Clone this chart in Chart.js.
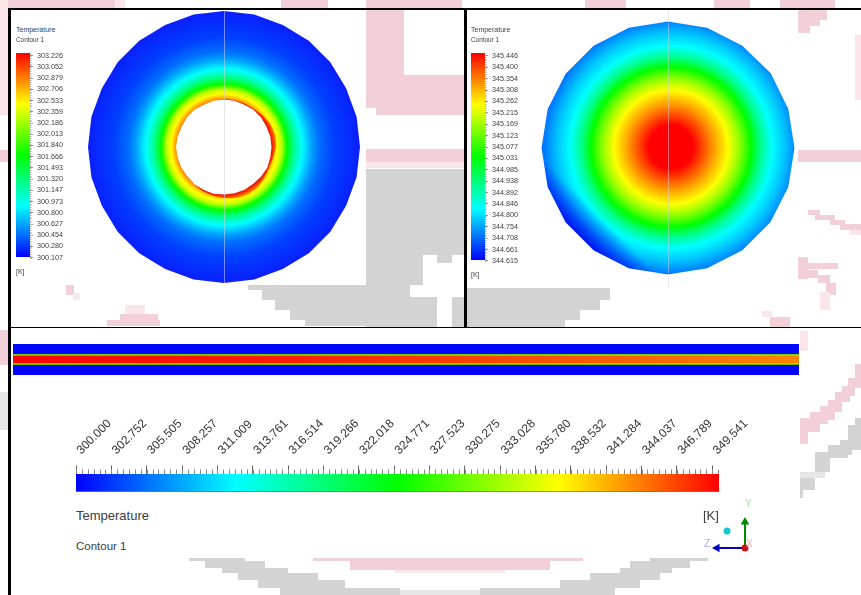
<!DOCTYPE html>
<html>
<head>
<meta charset="utf-8">
<title>Temperature contours</title>
<script src="https://cdn.jsdelivr.net/npm/chart.js@4"></script>
<style>
  html, body { margin: 0; padding: 0; background: #fff; }
  #page { position: relative; width: 861px; height: 595px; overflow: hidden; }
  canvas, .wash, .rule, .txt { position: absolute; }
  .txt { font-family: 'Liberation Sans', Arial, sans-serif; color: #3c3c3c; white-space: nowrap; line-height: 1; }
  .rule { background: #000; }
</style>
</head>
<body>
<div id="page">
  <canvas id="leftDisc" width="301" height="301" style="left:74px;top:-3.5px"></canvas>
  <canvas id="rightDisc" width="301" height="301" style="left:518px;top:-2px"></canvas>
  <canvas id="leftScale" width="54" height="216" style="left:16px;top:47px"></canvas>
  <canvas id="rightScale" width="54" height="219" style="left:471px;top:47px"></canvas>
  <canvas id="strip" width="786" height="31" style="left:13px;top:344px"></canvas>
  <canvas id="bar" width="720" height="78" style="left:56px;top:414px"></canvas>
  <canvas id="triad" width="60" height="60" style="left:700px;top:500px"></canvas>

  <div class="wash" style="left:224px;top:11px;width:1px;height:272px;background:rgba(205,205,215,.55)"></div>
  <div class="wash" style="left:668px;top:8px;width:1px;height:280px;background:rgba(205,205,215,.5)"></div>

  <div class="txt" style="left:16px;top:26px;font-size:7px">Temperature</div>
  <div class="txt" style="left:16px;top:37px;font-size:6.4px">Contour 1</div>
  <div class="txt" style="left:16px;top:268px;font-size:7px">[K]</div>
  <div class="txt" style="left:471px;top:26px;font-size:7px">Temperature</div>
  <div class="txt" style="left:471px;top:37px;font-size:6.4px">Contour 1</div>
  <div class="txt" style="left:471px;top:271px;font-size:7px">[K]</div>
  <div class="txt" style="left:76px;top:509px;font-size:13px">Temperature</div>
  <div class="txt" style="left:76px;top:541px;font-size:11.5px">Contour 1</div>
  <div class="txt" style="left:703px;top:509px;font-size:13px">[K]</div>
  <div class="txt" style="left:745px;top:499px;font-size:10px;color:#a9e3a9">Y</div>
  <div class="txt" style="left:704px;top:539px;font-size:10px;color:#aaaaff">Z</div>
  <div class="txt" style="left:746px;top:539px;font-size:10px;color:#ffaaaa">X</div>

  <div class="rule" style="left:8px;top:8px;width:853px;height:2px"></div>
  <div class="rule" style="left:8px;top:8px;width:3px;height:587px"></div>
  <div class="rule" style="left:464px;top:8px;width:2.5px;height:319px"></div>
  <div class="rule" style="left:8px;top:326.5px;width:853px;height:1.5px"></div>
</div>

<script>
// legend ticks
const leftTicks = [303.226, 303.052, 302.879, 302.706, 302.533, 302.359, 302.186, 302.013, 301.840, 301.666, 301.493, 301.320, 301.147, 300.973, 300.800, 300.627, 300.454, 300.280, 300.107];
const rightTicks = [345.446, 345.400, 345.354, 345.308, 345.262, 345.215, 345.169, 345.123, 345.077, 345.031, 344.985, 344.938, 344.892, 344.846, 344.800, 344.754, 344.708, 344.661, 344.615];
const barTicks = [300.000, 302.752, 305.505, 308.257, 311.009, 313.761, 316.514, 319.266, 322.018, 324.771, 327.523, 330.275, 333.028, 335.780, 338.532, 341.284, 344.037, 346.789, 349.541];

// colour map shared by the three legends (low to high)
const rainbowStops = [0, 0.25, 0.5, 0.75, 1];
const rainbowColors = ['#0000ff', '#00ffff', '#00ff00', '#ffff00', '#ff0000'];

// left disc: outline, hole and hot rim radii per spoke, clockwise from the top
const leftOutline = [136, 136, 135.5, 136, 136, 135.5, 136, 136, 136, 135.5, 136, 136, 135.5, 136, 136, 136, 135.5, 136, 136, 135.5, 136, 136, 136, 135.5, 136, 136, 135.5, 136];
const leftHole = [47.5, 47.5, 47, 47.5, 47.5, 47, 47.5, 47.5, 47.5, 48, 47.5, 47, 47.5, 47.5, 47.5, 48, 47.5, 47.5, 47, 47.5, 47.5, 48, 47.5, 47, 47.5, 47.5, 47, 47.5];
const leftHot = [48, 48, 48, 48.5, 50, 52, 53, 52, 50, 49.5, 51, 53, 53.5, 52.5, 51, 50, 49, 47.5, 47, 47, 47, 47, 47, 47, 47, 47, 47, 47];
const leftStopRadius = [47, 49.5, 53, 57, 63, 70, 78, 88, 95, 110, 136];
const leftStopColor = ['#ff8000', '#ffb400', '#ffff00', '#c8ff00', '#00ff00', '#00ff90', '#00ffff', '#00a0ff', '#0070ff', '#0040ff', '#0a1eff'];

// right disc
const rightOutline = [126.5, 126.5, 126.5, 127, 126.5, 126.5, 126.5, 126.5, 126.5, 126.5, 126.5, 126.5, 126.5, 126.5, 126.5, 126.5, 126.5, 126.5, 126.5, 126.5];
const rightStopRadius = [0, 22, 30, 42, 57, 68, 80, 90, 101, 113, 127];
const rightStopColor = ['#ff0000', '#ff0000', '#ff3c00', '#ff9600', '#ffff00', '#96ff00', '#00ff00', '#00ff90', '#00ffff', '#00c8ff', '#0078ff'];

// long section bands, bottom to top
const stripBands = [10, 1.5, 8, 1.5, 10];
const stripColors = ['#0000ff', '#60c800', null, '#78cc00', '#0008ff'];
const coreStops = [0, 0.35, 0.75, 1];
const coreColors = ['#ff0000', '#ff1c00', '#ff5a00', '#ff8400'];

// triad, in canvas units
const triadOrigin = [{ x: 45, y: 12 }];
const triadY = [{ x: 45, y: 12 }, { x: 45, y: 38 }];
const triadZ = [{ x: 45, y: 12 }, { x: 17, y: 12 }];
const triadDot = [{ x: 27, y: 29 }];

// washed out background picture: x, y, w, h, tone
const PINK = '#f3d0d8', PALE = '#fbe6ea', GREY = '#d3d3d3', LGREY = '#e6e6e6';
const wash = [
  [5, 0, 110, 8, PINK], [115, 0, 10, 8, PALE], [0, 0, 8, 115, PALE], [0, 150, 8, 12, PINK], [281, 0, 47, 8, PINK],
  [366, 0, 96, 8, PINK], [585, 0, 41, 8, PINK], [714, 0, 36, 8, PINK], [780, 0, 55, 8, PINK],
  [798, 10, 29, 10, PINK], [798, 20, 22, 6, PINK], [798, 26, 12, 7, PINK], [855, 35, 6, 65, PALE],
  [366, 10, 38, 98, PINK], [404, 75, 60, 40, PINK], [376, 108, 88, 7, PINK], [366, 149, 98, 13, PINK], [366, 162, 98, 6, PALE],
  [798, 150, 63, 12, PINK], [808, 210, 12, 5, PINK], [815, 215, 20, 5, PINK], [830, 220, 15, 5, PINK], [840, 224, 21, 6, PINK], [850, 230, 11, 5, PALE],
  [798, 257, 10, 22, PINK], [808, 263, 30, 6, PINK], [808, 270, 10, 8, PINK], [818, 275, 12, 8, PINK], [826, 283, 10, 12, PINK], [820, 292, 10, 18, PALE],
  [762, 311, 10, 6, PALE], [770, 317, 20, 10, PINK], [66, 285, 8, 10, PINK], [73, 293, 7, 7, PALE],
  [125, 305, 20, 10, PALE], [120, 314, 38, 12, PINK], [0, 330, 8, 35, PINK], [0, 392, 8, 38, LGREY],
  [107, 320, 53, 6, PINK], [800, 331, 8, 20, PALE],
  [366, 169, 98, 86, GREY], [366, 255, 57, 30, GREY], [437, 255, 15, 8, GREY], [366, 285, 44, 42, GREY], [410, 297, 27, 30, GREY], [452, 297, 12, 30, GREY],
  [248, 285, 118, 5, GREY], [262, 290, 104, 10, GREY], [275, 300, 91, 10, GREY], [290, 310, 76, 10, GREY], [305, 320, 61, 6, GREY],
  [467, 288, 143, 12, GREY], [467, 300, 133, 10, GREY], [467, 310, 113, 10, GREY], [467, 320, 98, 7, GREY],
  [855, 364, 6, 21, PINK], [848, 378, 13, 10, PINK], [842, 386, 13, 10, PINK], [835, 392, 15, 10, PINK], [828, 400, 14, 12, PINK], [820, 406, 15, 14, PINK], [810, 412, 18, 12, PINK], [800, 418, 20, 14, PINK], [800, 432, 8, 12, PINK],
  [855, 418, 6, 22, GREY], [848, 425, 13, 20, GREY], [840, 440, 21, 10, GREY], [828, 445, 24, 10, GREY], [815, 452, 33, 6, GREY], [815, 458, 15, 14, GREY], [800, 472, 25, 6, LGREY], [800, 478, 15, 12, GREY], [800, 490, 3, 8, GREY],
  [189, 558, 56, 3, GREY], [205, 561, 60, 7, GREY], [222, 568, 66, 5, GREY], [238, 573, 80, 7, GREY], [258, 580, 87, 8, GREY], [280, 588, 120, 7, GREY],
  [400, 590, 80, 5, LGREY], [480, 588, 135, 7, GREY], [560, 580, 80, 8, GREY], [590, 573, 70, 7, GREY], [620, 568, 52, 5, GREY], [630, 561, 60, 7, GREY], [650, 558, 58, 3, GREY],
  [313, 558, 270, 3, PINK], [350, 561, 200, 9, PINK], [395, 570, 110, 3, PALE]
];

const page = document.getElementById('page');
wash.forEach(([x, y, w, h, tone]) => {
  const block = document.createElement('div');
  block.className = 'wash';
  block.style.cssText = `left:${x}px;top:${y}px;width:${w}px;height:${h}px;background:${tone};z-index:-1`;
  page.appendChild(block);
});
page.style.zIndex = 0;

const base = { responsive: false, animation: false, events: [] };
const quiet = { legend: { display: false }, tooltip: { enabled: false } };
const blank = n => new Array(n).fill('');

function rainbow(ctx, vertical) {
  const area = ctx.chart.chartArea;
  if (!area) return rainbowColors[0];
  const g = vertical
    ? ctx.chart.ctx.createLinearGradient(0, area.bottom, 0, area.top)
    : ctx.chart.ctx.createLinearGradient(area.left, 0, area.right, 0);
  rainbowStops.forEach((s, i) => g.addColorStop(s, rainbowColors[i]));
  return g;
}

function radialFill(ctx, radii, colors, dx, dy) {
  const s = ctx.chart.scales.r;
  if (!s || !s.drawingArea) return colors[colors.length - 1];
  const max = s.max;
  const g = ctx.chart.ctx.createRadialGradient(s.xCenter + dx, s.yCenter + dy, 0, s.xCenter + dx, s.yCenter + dy, s.drawingArea);
  radii.forEach((r, i) => g.addColorStop(r / max, colors[i]));
  return g;
}

// small ticks between the labelled ones
const minorTicks = {
  id: 'minorTicks',
  afterDraw(chart, args, opts) {
    const scale = chart.scales[opts.axis];
    const ticks = scale.ticks.map(t => t.value).sort((a, b) => a - b);
    const step = (ticks[1] - ticks[0]) / 6;
    const { ctx, chartArea } = chart;
    ctx.save();
    ctx.strokeStyle = opts.color;
    ctx.lineWidth = 1;
    for (let v = ticks[0]; v <= scale.max; v += step) {
      const p = Math.round(scale.getPixelForValue(v)) + 0.5;
      ctx.beginPath();
      if (opts.axis === 'x') {
        ctx.moveTo(p, chartArea.top);
        ctx.lineTo(p, chartArea.top - opts.size);
      } else {
        ctx.moveTo(chartArea.right, p);
        ctx.lineTo(chartArea.right + opts.size, p);
      }
      ctx.stroke();
    }
    ctx.restore();
  }
};

const radialScale = {
  r: {
    min: 0,
    max: 150,
    ticks: { display: false },
    grid: { display: false },
    angleLines: { display: false },
    pointLabels: { display: false }
  }
};

new Chart(document.getElementById('leftDisc'), {
  type: 'radar',
  data: {
    labels: blank(leftOutline.length),
    datasets: [
      { data: leftHole, backgroundColor: '#ffffff', fill: true, borderWidth: 0, pointRadius: 0 },
      {
        data: leftHot,
        fill: true,
        borderWidth: 0,
        pointRadius: 0,
        backgroundColor: ctx => radialFill(ctx, [47, 50, 52, 54], ['#e81000', '#ff4000', '#ff9000', '#ffd000'], 0, 0)
      },
      {
        data: leftOutline,
        fill: true,
        borderWidth: 0,
        pointRadius: 0,
        backgroundColor: ctx => radialFill(ctx, leftStopRadius, leftStopColor, 0, 0)
      }
    ]
  },
  options: { ...base, layout: { padding: 0 }, plugins: quiet, scales: radialScale }
});

new Chart(document.getElementById('rightDisc'), {
  type: 'radar',
  data: {
    labels: blank(rightOutline.length),
    datasets: [
      {
        // darker corner on the lower left
        data: rightOutline,
        fill: true,
        borderWidth: 0,
        pointRadius: 0,
        backgroundColor: ctx => {
          const s = ctx.chart.scales.r;
          if (!s || !s.drawingArea) return 'rgba(0,0,0,0)';
          const g = ctx.chart.ctx.createLinearGradient(s.xCenter - 68, s.yCenter + 68, s.xCenter - 92, s.yCenter + 92);
          g.addColorStop(0, 'rgba(0,0,255,0)');
          g.addColorStop(1, 'rgba(0,0,235,0.95)');
          return g;
        }
      },
      {
        data: rightOutline,
        fill: true,
        borderWidth: 0,
        pointRadius: 0,
        backgroundColor: ctx => radialFill(ctx, rightStopRadius, rightStopColor, 3, -1)
      }
    ]
  },
  options: { ...base, layout: { padding: 0 }, plugins: quiet, scales: radialScale }
});

function legendScale(id, ticks, low, high) {
  new Chart(document.getElementById(id), {
    type: 'bar',
    data: {
      labels: ['T'],
      datasets: [{
        data: [[low, high]],
        backgroundColor: ctx => rainbow(ctx, true),
        borderWidth: 0,
        inflateAmount: 0,
        barPercentage: 1,
        categoryPercentage: 1
      }]
    },
    options: {
      ...base,
      layout: { padding: { top: 6, bottom: 6, left: 0, right: 0 } },
      plugins: { ...quiet, minorTicks: { axis: 'y', size: 1.5, color: '#b0b0b0' } },
      scales: {
        x: { display: false },
        y: {
          position: 'right',
          min: low,
          max: high,
          afterBuildTicks: axis => { axis.ticks = ticks.map(value => ({ value })); },
          afterFit: axis => { axis.width = 40; axis.paddingTop = 0; axis.paddingBottom = 0; },
          border: { display: false },
          grid: { drawOnChartArea: false, tickLength: 3, tickColor: '#9a9a9a' },
          ticks: {
            autoSkip: false,
            padding: 4,
            color: '#3c3c3c',
            font: { family: "'Liberation Sans', Arial, sans-serif", size: 7.2 },
            callback: v => v.toFixed(3)
          }
        }
      }
    },
    plugins: [minorTicks]
  });
}
legendScale('leftScale', leftTicks, 300.118, 303.268);
legendScale('rightScale', rightTicks, 344.619, 345.458);

new Chart(document.getElementById('strip'), {
  type: 'bar',
  data: {
    labels: ['section'],
    datasets: stripBands.map((band, i) => ({
      data: [band],
      borderWidth: 0,
      inflateAmount: 0,
      barPercentage: 1,
      categoryPercentage: 1,
      backgroundColor: stripColors[i] || (ctx => {
        const area = ctx.chart.chartArea;
        if (!area) return coreColors[0];
        const g = ctx.chart.ctx.createLinearGradient(area.left, 0, area.right, 0);
        coreStops.forEach((s, k) => g.addColorStop(s, coreColors[k]));
        return g;
      })
    }))
  },
  options: {
    ...base,
    layout: { padding: 0 },
    plugins: quiet,
    scales: {
      x: { display: false, stacked: true },
      y: { display: false, stacked: true, min: 0, max: 31 }
    }
  }
});

new Chart(document.getElementById('bar'), {
  type: 'bar',
  data: {
    labels: ['Temperature'],
    datasets: [{
      data: [[barTicks[0], 350.06]],
      backgroundColor: ctx => rainbow(ctx, false),
      borderColor: '#777777',
      borderWidth: { bottom: 1 },
      borderSkipped: false,
      barPercentage: 1,
      categoryPercentage: 1
    }]
  },
  options: {
    ...base,
    indexAxis: 'y',
    layout: { padding: { left: 20, right: 57, top: 0, bottom: 0 } },
    plugins: { ...quiet, minorTicks: { axis: 'x', size: 4.5, color: '#8a8a8a' } },
    scales: {
      y: { display: false },
      x: {
        position: 'top',
        min: barTicks[0],
        max: 350.06,
        afterBuildTicks: axis => { axis.ticks = barTicks.map(value => ({ value })); },
        afterFit: axis => { axis.height = 60; axis.paddingLeft = 0; axis.paddingRight = 0; },
        border: { display: false },
        grid: { drawOnChartArea: false, tickLength: 8.5, tickColor: '#666666' },
        ticks: {
          autoSkip: false,
          minRotation: 45,
          maxRotation: 45,
          padding: 8,
          labelOffset: 13,
          color: '#333333',
          font: { family: "'Liberation Sans', Arial, sans-serif", size: 12 },
          callback: v => v.toFixed(3)
        }
      }
    }
  },
  plugins: [minorTicks]
});

new Chart(document.getElementById('triad'), {
  type: 'scatter',
  data: {
    datasets: [
      { data: triadOrigin, pointRadius: 3.5, pointBackgroundColor: '#c81414', pointBorderWidth: 0 },
      { data: triadDot, pointRadius: 3.5, pointBackgroundColor: '#14c8d2', pointBorderWidth: 0 },
      {
        data: triadY, showLine: true, borderColor: '#008c00', borderWidth: 2,
        pointStyle: 'triangle', pointRadius: [0, 5], pointRotation: 0, pointBackgroundColor: '#008c00', pointBorderWidth: 0
      },
      {
        data: triadZ, showLine: true, borderColor: '#0000c8', borderWidth: 2,
        pointStyle: 'triangle', pointRadius: [0, 5], pointRotation: -90, pointBackgroundColor: '#0000c8', pointBorderWidth: 0
      }
    ]
  },
  options: {
    ...base,
    layout: { padding: 0, autoPadding: false },
    plugins: quiet,
    scales: {
      x: { display: false, min: 0, max: 60 },
      y: { display: false, min: 0, max: 60 }
    }
  }
});
</script>
</body>
</html>
